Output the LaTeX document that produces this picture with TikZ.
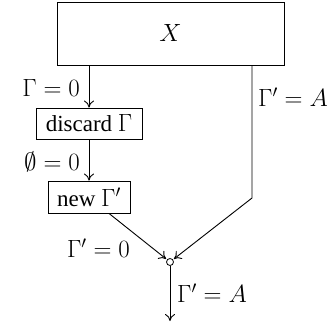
\documentclass[tikz,border=0pt]{standalone}
\usepackage{fontspec}
\setmainfont{Liberation Serif}
\usetikzlibrary{calc,arrows.meta}
\begin{document}
\begin{tikzpicture}[x=1pt,y=-1pt,
  every node/.style={font=\fontsize{23}{27}\selectfont},
  boxstyle/.style={draw,line width=0.9pt,inner sep=0pt,minimum width=#1},
  lab/.style={inner sep=0pt},
  conn/.style={line width=0.9pt},
  arr/.style={conn,-{To[length=7pt,width=10pt]}}]
\useasboundingbox (0,0) rectangle (328,326);
\node[boxstyle=227pt,minimum height=63pt] (X) at (170.5,33.5) {$X$};
\node[boxstyle=106pt,minimum height=31pt] (d) at (89,123.5) {discard $\Gamma$};
\node[boxstyle=82pt,minimum height=32pt] (n) at (89,197) {new $\Gamma'$};
\node[draw,circle,line width=0.8pt,inner sep=0pt,minimum size=7pt] (c) at (170,262) {};
\coordinate (r) at (252,198);
\coordinate (nb) at (109,213);
\coordinate (e) at (170,321);
\draw[arr] (X.south -| d.north) -- (d.north);
\draw[arr] (d.south) -- (n.north);
\draw[arr,shorten >=1pt] (n.south -| nb) -- (c);
\draw[arr,shorten >=1pt] (X.south -| r) -- (r) -- (c);
\draw[arr] (c) -- (e);
\node[lab,anchor=east] (l1) at (80,88) {$\Gamma=0$};
\node[lab,anchor=east] (l2) at (80,162) {$\emptyset=0$};
\node[lab,anchor=east] (l3) at (130,248) {$\Gamma'=0$};
\node[lab,anchor=west] (l4) at (258,97) {$\Gamma'=A$};
\node[lab,anchor=west] (l5) at (177,293) {$\Gamma'=A$};
\end{tikzpicture}
\end{document}
